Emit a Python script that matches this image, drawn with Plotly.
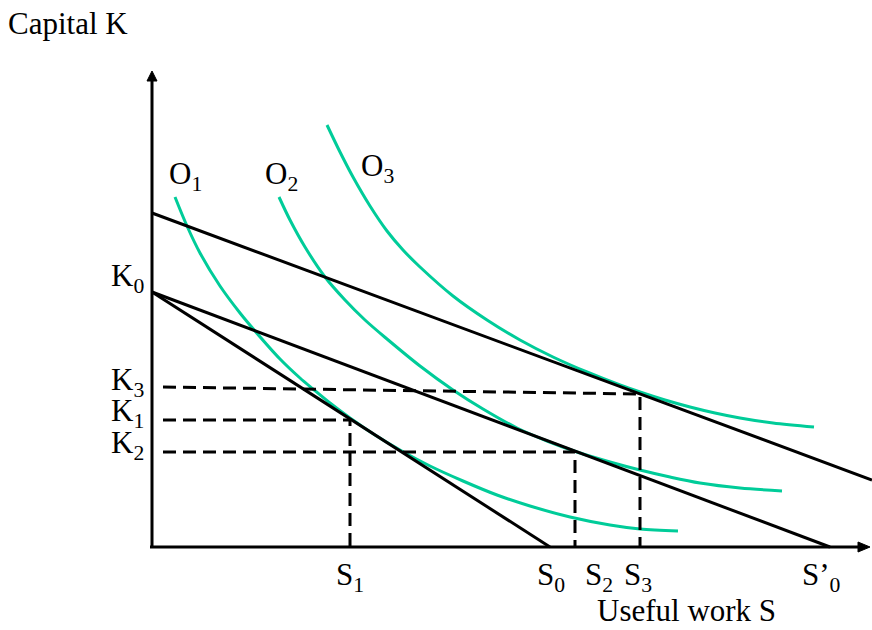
import plotly.graph_objects as go

# ---- data (chart units: origin at axes corner) ----
o1_x = [23, 35, 48, 68, 88, 103, 128, 148, 161, 178, 198, 223, 248, 278, 311, 345, 378, 418, 458, 488, 526]
o1_y = [350, 321, 294, 261, 234, 216, 188, 169, 158, 144, 129, 112, 97, 81, 66, 52, 41, 30, 22, 18, 16]

o2_x = [127, 138, 153, 173, 193, 213, 235, 268, 301, 331, 365, 395, 425, 458, 488, 518, 548, 588, 630]
o2_y = [350, 327, 300, 270, 247, 227, 208, 181, 157, 138, 119, 106, 95, 85, 77, 70, 64, 59, 56]

o3_x = [175, 188, 201, 218, 235, 251, 268, 301, 335, 368, 401, 435, 468, 488, 513, 538, 563, 588, 621, 662]
o3_y = [422, 395, 370, 341, 316, 297, 280, 251, 227, 207, 190, 175, 162, 155, 147, 140, 134, 129, 124, 120]

# budget lines: (x0, y0, x1, y1)
line_a = [0, 334, 720, 67]
line_b = [0, 255, 678, 0]
line_c = [0, 255, 398, 0]

# tangency points and K levels
k3 = [11, 160, 488, 153]
k1 = [11, 127, 198, 127]
k2 = [11, 95, 423, 95]

y_axis_top = 470
x_axis_end = 710

labels = [
    ("Capital K", -145, 524),
    ("K<sub>0</sub>", -42, 269),
    ("K<sub>3</sub>", -42, 165),
    ("K<sub>1</sub>", -42, 134),
    ("K<sub>2</sub>", -42, 102),
    ("O<sub>1</sub>", 16, 371),
    ("O<sub>2</sub>", 112, 371),
    ("O<sub>3</sub>", 208, 379),
    ("S<sub>1</sub>", 183, -30),
    ("S<sub>0</sub>", 384, -30),
    ("S<sub>2</sub>", 432, -30),
    ("S<sub>3</sub>", 471, -30),
    ("S’<sub>0</sub>", 649, -30),
    ("Useful work S", 444, -63),
]

GREEN = "#00CC99"
FONT = "Liberation Serif"

fig = go.Figure()

# curves
for xs, ys in [(o1_x, o1_y), (o2_x, o2_y), (o3_x, o3_y)]:
    fig.add_trace(go.Scatter(x=xs, y=ys, mode="lines",
                             line=dict(color=GREEN, width=3, shape="spline", smoothing=0.9),
                             hoverinfo="skip", showlegend=False))

# budget lines
for ln in [line_a, line_b, line_c]:
    fig.add_trace(go.Scatter(x=[ln[0], ln[2]], y=[ln[1], ln[3]], mode="lines",
                             line=dict(color="black", width=3),
                             hoverinfo="skip", showlegend=False))

# dashed guides
for k in [k3, k1, k2]:
    fig.add_trace(go.Scatter(x=[k[0], k[2], k[2]], y=[k[1], k[3], 0], mode="lines",
                             line=dict(color="black", width=3, dash="13px,7px"),
                             hoverinfo="skip", showlegend=False))

# axes
fig.add_trace(go.Scatter(x=[0, 0], y=[-1, y_axis_top], mode="lines",
                         line=dict(color="black", width=3), hoverinfo="skip", showlegend=False))
fig.add_trace(go.Scatter(x=[-2, x_axis_end], y=[0, 0], mode="lines",
                         line=dict(color="black", width=3), hoverinfo="skip", showlegend=False))
fig.add_shape(type="path", path=f"M -5,{y_axis_top-4} L 5,{y_axis_top-4} L 0,{y_axis_top+6} Z",
              fillcolor="black", line=dict(color="black", width=1))
fig.add_shape(type="path", path=f"M {x_axis_end-4},5 L {x_axis_end-4},-5 L {x_axis_end+8},0 Z",
              fillcolor="black", line=dict(color="black", width=1))

for text, x, y in labels:
    fig.add_annotation(x=x, y=y, text=text, showarrow=False, xanchor="left", yanchor="middle",
                       borderpad=0, font=dict(family=FONT, size=31, color="black"))

fig.update_layout(
    width=872, height=630,
    margin=dict(l=0, r=0, t=0, b=0),
    paper_bgcolor="white", plot_bgcolor="white",
    xaxis=dict(range=[-152, 720], visible=False, fixedrange=True),
    yaxis=dict(range=[-83, 547], visible=False, fixedrange=True),
    showlegend=False,
)

fig.write_html("out.html", config={"displayModeBar": False},
               post_script="document.body.style.margin='0';document.body.style.overflow='hidden';")
